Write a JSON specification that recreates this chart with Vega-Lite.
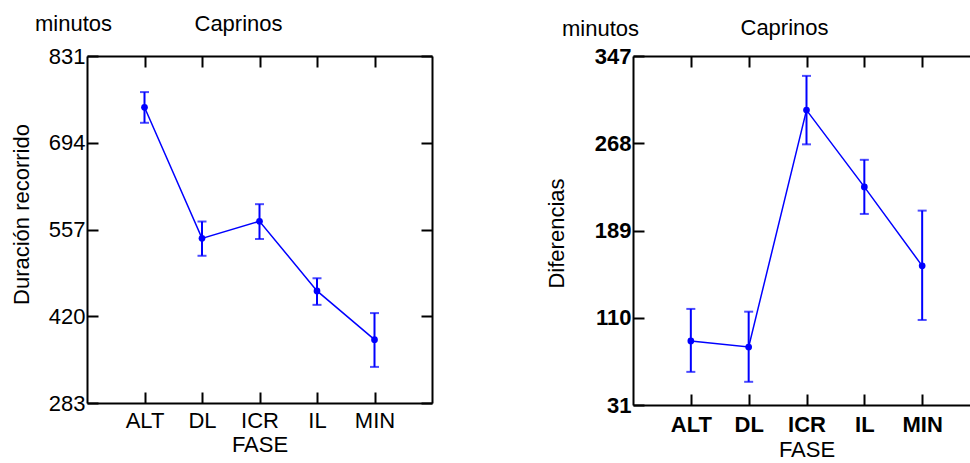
{
  "$schema": "https://vega.github.io/schema/vega-lite/v6.json",
  "background": "white",
  "padding": {"left": 10, "top": 12, "right": 0, "bottom": 0},
  "config": {
    "font": "Liberation Sans",
    "view": {"stroke": null},
    "concat": {"spacing": 112},
    "axis": {
      "domainColor": "black", "domainWidth": 2,
      "tickColor": "black", "tickWidth": 2, "tickSize": -11,
      "grid": false,
      "labelColor": "black", "labelFontSize": 22, "labelFont": "Liberation Sans",
      "titleColor": "black", "titleFontSize": 22, "titleFontWeight": "normal", "titleFont": "Liberation Sans"
    }
  },
  "datasets": {
    "left": [
      {"FASE": "ALT", "mean": 750, "lo": 725.5, "hi": 774},
      {"FASE": "DL", "mean": 543, "lo": 515.5, "hi": 569.6},
      {"FASE": "ICR", "mean": 570, "lo": 542, "hi": 597},
      {"FASE": "IL", "mean": 460, "lo": 438, "hi": 480},
      {"FASE": "MIN", "mean": 383, "lo": 340, "hi": 425}
    ],
    "right": [
      {"FASE": "ALT", "mean": 89, "lo": 61, "hi": 118},
      {"FASE": "DL", "mean": 83.5, "lo": 52, "hi": 115.5},
      {"FASE": "ICR", "mean": 298, "lo": 267, "hi": 329},
      {"FASE": "IL", "mean": 228.5, "lo": 204, "hi": 253},
      {"FASE": "MIN", "mean": 157, "lo": 108, "hi": 207}
    ]
  },
  "hconcat": [
    {
      "width": 345, "height": 347,
      "data": {"name": "left"},
      "resolve": {"axis": {"x": "independent", "y": "independent"}},
      "layer": [
        {
          "mark": {"type": "line", "color": "#0000FF", "strokeWidth": 1.5},
          "encoding": {
            "x": {"field": "FASE", "type": "nominal", "sort": null,
                  "scale": {"type": "point", "padding": 1},
                  "axis": {"orient": "bottom", "title": "FASE", "labelAngle": 0, "labelPadding": 18, "titlePadding": 3}},
            "y": {"field": "mean", "type": "quantitative",
                  "scale": {"domain": [283, 831], "nice": false, "zero": false},
                  "axis": {"orient": "left", "values": [283, 420, 557, 694, 831], "title": "Duración recorrido",
                           "labelPadding": 13, "titleX": -66, "titleY": 158, "titleBaseline": "middle"}}
          }
        },
        {
          "mark": {"type": "rule", "color": "#0000FF", "strokeWidth": 2},
          "encoding": {
            "x": {"field": "FASE", "type": "nominal", "sort": null,
                  "axis": {"orient": "top", "labels": false, "title": "Caprinos",
                           "titleX": 107, "titleY": -25.5, "titleAlign": "left", "titleBaseline": "alphabetic", "titleAngle": 0}},
            "y": {"field": "lo", "type": "quantitative",
                  "axis": {"orient": "right", "values": [283, 420, 557, 694, 831], "labels": false,
                           "title": "minutos", "titleAngle": 0, "titleX": -359, "titleY": -26,
                           "titleAlign": "center", "titleBaseline": "alphabetic"}},
            "y2": {"field": "hi"}
          }
        },
        {
          "mark": {"type": "tick", "color": "#0000FF", "orient": "horizontal", "size": 9, "thickness": 2},
          "encoding": {
            "x": {"field": "FASE", "type": "nominal", "sort": null, "axis": null},
            "y": {"field": "lo", "type": "quantitative", "axis": null}
          }
        },
        {
          "mark": {"type": "tick", "color": "#0000FF", "orient": "horizontal", "size": 9, "thickness": 2},
          "encoding": {
            "x": {"field": "FASE", "type": "nominal", "sort": null, "axis": null},
            "y": {"field": "hi", "type": "quantitative", "axis": null}
          }
        },
        {
          "mark": {"type": "point", "filled": true, "color": "#0000FF", "size": 45, "opacity": 1},
          "encoding": {
            "x": {"field": "FASE", "type": "nominal", "sort": null, "axis": null},
            "y": {"field": "mean", "type": "quantitative", "axis": null}
          }
        }
      ]
    },
    {
      "width": 347, "height": 349,
      "data": {"name": "right"},
      "resolve": {"axis": {"x": "independent", "y": "independent"}},
      "layer": [
        {
          "mark": {"type": "line", "color": "#0000FF", "strokeWidth": 1.5},
          "encoding": {
            "x": {"field": "FASE", "type": "nominal", "sort": null,
                  "scale": {"type": "point", "padding": 1},
                  "axis": {"orient": "bottom", "title": "FASE", "labelAngle": 0, "labelPadding": 20,
                           "labelFontWeight": "bold", "titlePadding": 4}},
            "y": {"field": "mean", "type": "quantitative",
                  "scale": {"domain": [31, 347], "nice": false, "zero": false},
                  "axis": {"orient": "left", "values": [31, 110, 189, 268, 347], "title": "Diferencias",
                           "labelPadding": 13, "labelFontWeight": "bold",
                           "titleX": -77, "titleY": 177, "titleBaseline": "middle"}}
          }
        },
        {
          "mark": {"type": "rule", "color": "#0000FF", "strokeWidth": 2},
          "encoding": {
            "x": {"field": "FASE", "type": "nominal", "sort": null,
                  "axis": {"orient": "top", "labels": false, "title": "Caprinos",
                           "titleX": 107, "titleY": -22, "titleAlign": "left", "titleBaseline": "alphabetic", "titleAngle": 0}},
            "y": {"field": "lo", "type": "quantitative",
                  "axis": {"orient": "right", "values": [31, 110, 189, 268, 347], "labels": false,
                           "ticks": false, "domain": false,
                           "title": "minutos", "titleAngle": 0, "titleX": -380, "titleY": -21,
                           "titleAlign": "center", "titleBaseline": "alphabetic"}},
            "y2": {"field": "hi"}
          }
        },
        {
          "mark": {"type": "tick", "color": "#0000FF", "orient": "horizontal", "size": 9, "thickness": 2},
          "encoding": {
            "x": {"field": "FASE", "type": "nominal", "sort": null, "axis": null},
            "y": {"field": "lo", "type": "quantitative", "axis": null}
          }
        },
        {
          "mark": {"type": "tick", "color": "#0000FF", "orient": "horizontal", "size": 9, "thickness": 2},
          "encoding": {
            "x": {"field": "FASE", "type": "nominal", "sort": null, "axis": null},
            "y": {"field": "hi", "type": "quantitative", "axis": null}
          }
        },
        {
          "mark": {"type": "point", "filled": true, "color": "#0000FF", "size": 45, "opacity": 1},
          "encoding": {
            "x": {"field": "FASE", "type": "nominal", "sort": null, "axis": null},
            "y": {"field": "mean", "type": "quantitative", "axis": null}
          }
        }
      ]
    }
  ]
}
